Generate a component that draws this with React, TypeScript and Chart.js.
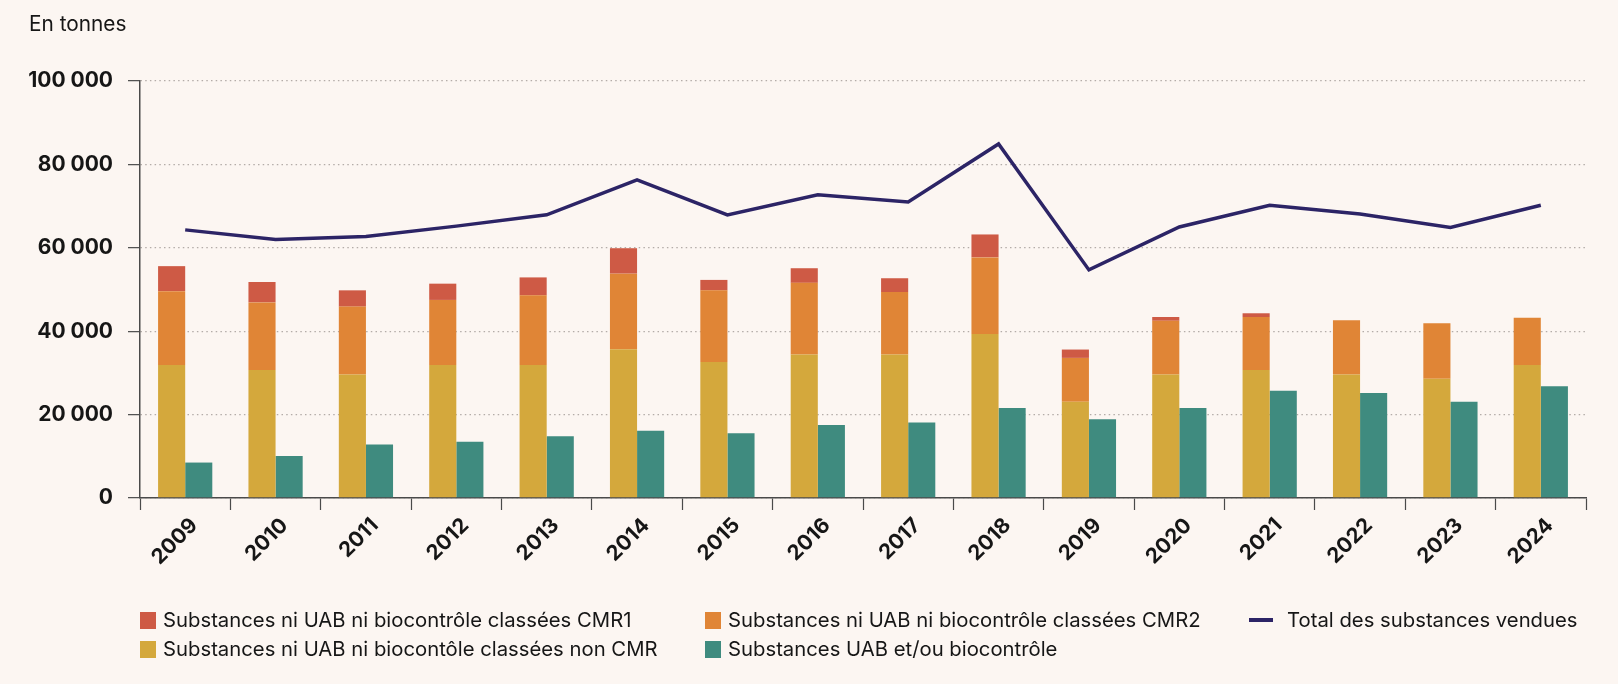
import React, { useEffect, useRef } from "react";
import { Chart, registerables } from "chart.js";

Chart.register(...registerables);

// ---- Data ----
const years = ["2009", "2010", "2011", "2012", "2013", "2014", "2015", "2016", "2017", "2018", "2019", "2020", "2021", "2022", "2023", "2024"];
const nonCmr = [31900, 30700, 29600, 31900, 31900, 35700, 32600, 34400, 34400, 39300, 23100, 29600, 30700, 29600, 28600, 31900];
const cmr2 = [17700, 16200, 16300, 15600, 16700, 18100, 17200, 17200, 15000, 18400, 10500, 12900, 12700, 13000, 13300, 11300];
const cmr1 = [6000, 4900, 3900, 3900, 4300, 6100, 2500, 3500, 3300, 5500, 2000, 900, 900, 0, 0, 0];
const uab = [8500, 10100, 12800, 13500, 14800, 16100, 15500, 17500, 18100, 21600, 18900, 21600, 25700, 25200, 23100, 26800];
const total = [64300, 62000, 62700, 65200, 67900, 76300, 67900, 72700, 71000, 84900, 54700, 65000, 70200, 68100, 64900, 70200];

const yTicks = [0, 20000, 40000, 60000, 80000, 100000];

const labelCmr1 = "Substances ni UAB ni biocontrôle classées CMR1";
const labelCmr2 = "Substances ni UAB ni biocontrôle classées CMR2";
const labelNonCmr = "Substances ni UAB ni biocontôle classées non CMR";
const labelUab = "Substances UAB et/ou biocontrôle";
const labelTotal = "Total des substances vendues";
const unitLabel = "En tonnes";

// ---- Styles ----
const BG = "#FCF6F2";
const RED = "#CE5A45";
const ORANGE = "#E08536";
const YELLOW = "#D4A83C";
const TEAL = "#3F8B7F";
const NAVY = "#2C2466";
const AXIS = "#4A4A4A";
const GRID = "#B3ACA8";
const TEXT = "#161616";
const FONT = "Inter, 'Noto Sans', sans-serif";

const fmt = (v: number) => {
  const s = Math.round(v).toString();
  return s.replace(/\B(?=(\d{3})+(?!\d))/g, " ");
};

type LegendItem = { label: string; color: string; kind: "box" | "line"; left: number; top: number };

const legendItems: LegendItem[] = [
  { label: labelCmr1, color: RED, kind: "box", left: 140, top: 610 },
  { label: labelCmr2, color: ORANGE, kind: "box", left: 705, top: 610 },
  { label: labelTotal, color: NAVY, kind: "line", left: 1249, top: 610 },
  { label: labelNonCmr, color: YELLOW, kind: "box", left: 140, top: 639 },
  { label: labelUab, color: TEAL, kind: "box", left: 705, top: 639 },
];

export default function App() {
  const canvasRef = useRef<HTMLCanvasElement>(null);

  useEffect(() => {
    document.body.style.margin = "0";
    const canvas = canvasRef.current;
    if (!canvas) return;
    const chart = new Chart(canvas, {
      type: "bar",
      data: {
        labels: years,
        datasets: [
          {
            type: "line",
            label: labelTotal,
            data: total,
            borderColor: NAVY,
            backgroundColor: NAVY,
            borderWidth: 3.5,
            pointRadius: 0,
            pointHoverRadius: 0,
            tension: 0,
            stack: "total",
            order: 0,
          } as any,
          { label: labelNonCmr, data: nonCmr, backgroundColor: YELLOW, stack: "a", order: 1 },
          { label: labelCmr2, data: cmr2, backgroundColor: ORANGE, stack: "a", order: 1 },
          { label: labelCmr1, data: cmr1, backgroundColor: RED, stack: "a", order: 1 },
          { label: labelUab, data: uab, backgroundColor: TEAL, stack: "b", order: 1 },
        ],
      },
      options: {
        responsive: false,
        animation: false,
        devicePixelRatio: 1,
        layout: { padding: { left: 0, right: 32, top: 81, bottom: 0 } },
        datasets: {
          bar: { categoryPercentage: 0.6, barPercentage: 1.0, borderWidth: 0 },
        },
        plugins: {
          legend: { display: false },
          tooltip: { enabled: false },
          title: { display: false },
        },
        scales: {
          x: {
            offset: true,
            grid: {
              offset: true,
              drawOnChartArea: false,
              drawTicks: true,
              tickLength: 12,
              tickColor: AXIS,
              tickWidth: 1.2,
            },
            border: { display: true, color: AXIS, width: 1.5 },
            ticks: {
              color: TEXT,
              font: { family: FONT, size: 21, weight: "bold" },
              maxRotation: 45,
              minRotation: 45,
              padding: 3,
              labelOffset: 9,
              autoSkip: false,
            },
            afterFit: (s: any) => {
              s.height = 186;
            },
          },
          y: {
            stacked: true,
            min: 0,
            max: 100000,
            afterBuildTicks: (s: any) => {
              s.ticks = yTicks.map((v) => ({ value: v }));
            },
            ticks: {
              color: TEXT,
              font: { family: FONT, size: 21, weight: "bold" },
              padding: 15,
              callback: (v: any) => fmt(Number(v)),
            },
            grid: {
              color: GRID,
              lineWidth: 1.3,
              drawTicks: true,
              tickLength: 12,
              tickColor: AXIS,
              tickWidth: 1.2,
            },
            border: { display: true, color: AXIS, width: 1.5, dash: [1.5, 3.2] },
            afterFit: (s: any) => {
              s.width = 140;
            },
          },
        },
      },
    });
    return () => chart.destroy();
  }, []);

  return (
    <div
      style={{
        position: "fixed",
        left: 0,
        top: 0,
        width: 1618,
        height: 684,
        background: BG,
        fontFamily: FONT,
        color: TEXT,
        overflow: "hidden",
      }}
    >
      <canvas
        ref={canvasRef}
        width={1618}
        height={684}
        style={{ position: "absolute", left: 0, top: 0, width: 1618, height: 684, display: "block" }}
      />
      <div
        style={{
          position: "absolute",
          left: 29,
          top: 14,
          fontSize: 20.8,
          lineHeight: "20px",
          whiteSpace: "nowrap",
        }}
      >
        {unitLabel}
      </div>
      {legendItems.map((it) => (
        <div
          key={it.label}
          style={{
            position: "absolute",
            left: it.left,
            top: it.top,
            height: 20,
            display: "flex",
            alignItems: "center",
            fontSize: 20.3,
            lineHeight: "20px",
            whiteSpace: "nowrap",
          }}
        >
          {it.kind === "box" ? (
            <span style={{ display: "inline-block", width: 16, height: 17, background: it.color, marginRight: 7 }} />
          ) : (
            <span style={{ display: "inline-block", width: 24, height: 4, background: it.color, marginRight: 14 }} />
          )}
          <span>{it.label}</span>
        </div>
      ))}
    </div>
  );
}
